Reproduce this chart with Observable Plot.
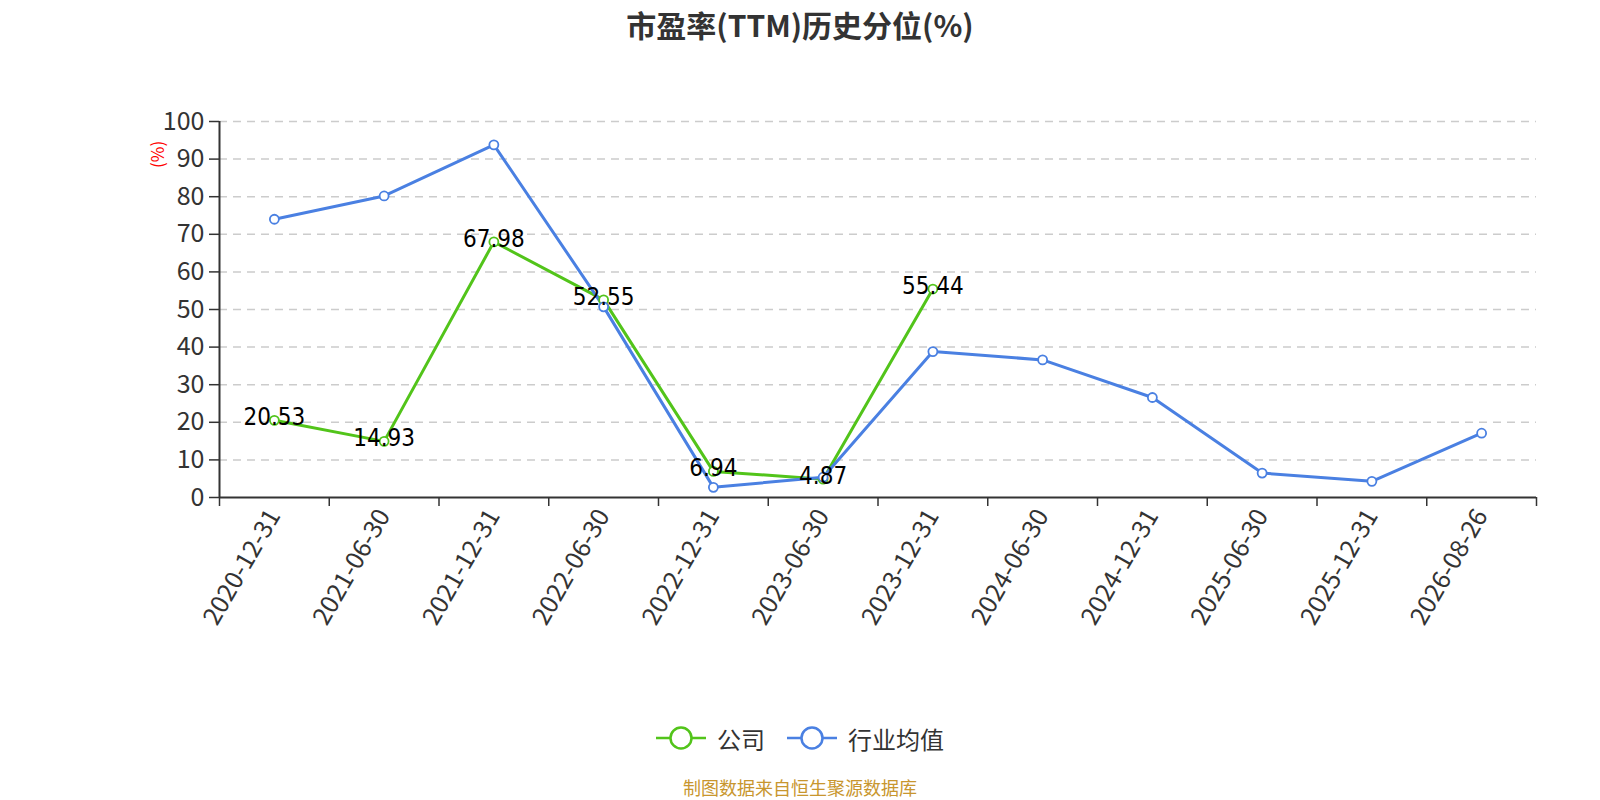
<!DOCTYPE html>
<html><head><meta charset="utf-8">
<script src="https://cdn.jsdelivr.net/npm/d3@7"></script>
<script src="https://cdn.jsdelivr.net/npm/@observablehq/plot@0.6"></script>
<style>
body{margin:0;background:#fff;font-family:"Noto Sans CJK SC","Noto Sans",sans-serif;}
#wrap{position:relative;width:1600px;height:800px;overflow:hidden;}
#title{position:absolute;left:0;width:1600px;top:6px;line-height:36px;text-align:center;font-size:30px;font-weight:bold;color:#333;}
#chart{position:absolute;left:0;top:0;}
#ylab{position:absolute;left:145px;top:144px;width:24px;height:24px;line-height:24px;transform:rotate(-90deg);color:#f00;font-size:17px;text-align:center;}
#legend{position:absolute;top:722px;left:0;width:1600px;height:32px;display:flex;justify-content:center;align-items:center;font-size:24px;color:#333;}
#legend .item{display:flex;align-items:center;margin:0 11px;}
#legend svg{margin-right:11px;}
#caption{position:absolute;top:777px;left:0;width:1600px;line-height:20px;text-align:center;font-size:18px;color:#c8962e;}
</style></head>
<body><div id="wrap">
<div id="chart"></div>
<div id="title">市盈率(TTM)历史分位(%)</div>
<div id="ylab">(%)</div>
<div id="legend"></div>
<div id="caption">制图数据来自恒生聚源数据库</div>
</div>
<script>
const dates = ["2020-12-31","2021-06-30","2021-12-31","2022-06-30","2022-12-31","2023-06-30","2023-12-31","2024-06-30","2024-12-31","2025-06-30","2025-12-31","2026-08-26"];
const company = [20.53, 14.93, 67.98, 52.55, 6.94, 4.87, 55.44, null, null, null, null, null];
const industry = [74.0, 80.2, 93.8, 50.7, 2.7, 5.4, 38.8, 36.6, 26.6, 6.5, 4.3, 17.1];
const yTicks = [0,10,20,30,40,50,60,70,80,90,100];
const seriesNames = ["公司","行业均值"];
const colors = ["#52c41a","#4a80e2"];

const compRows = dates.map((d,i)=>({i, date:d, v:company[i]})).filter(r=>r.v!=null);
const indRows = dates.map((d,i)=>({i, date:d, v:industry[i]}));
const idx = d3.range(dates.length);
const bounds = d3.range(dates.length+1).map(k=>k-0.5);

const plot = Plot.plot({
  width:1600, height:700,
  marginTop:121, marginLeft:219, marginRight:64, marginBottom:203,
  style:{color:"#333", fontFamily:"'Noto Sans CJK SC','Noto Sans',sans-serif", background:"transparent"},
  x:{type:"linear", domain:[-0.5, dates.length-0.5]},
  y:{domain:[0,100]},
  marks:[
    Plot.gridY(yTicks.filter(t=>t>0), {stroke:"#ccc", strokeOpacity:1, strokeDasharray:"8,6", strokeWidth:1.5}),
    Plot.axisY(yTicks, {tickSize:10, fontSize:25, label:null, tickPadding:5, stroke:"#333", strokeWidth:1.5}),
    Plot.ruleX([-0.5], {stroke:"#333", strokeWidth:2}),
    Plot.ruleY([0], {stroke:"#333", strokeWidth:2}),
    Plot.axisX(bounds, {tickSize:9, tickFormat:()=>"", label:null, stroke:"#333", strokeWidth:1.5}),
    Plot.axisX(idx, {tickSize:0, tickFormat:i=>dates[i], tickRotate:-60, fontSize:25, label:null, tickPadding:14}),
    Plot.line(compRows, {x:"i", y:"v", stroke:colors[0], strokeWidth:3}),
    Plot.line(indRows, {x:"i", y:"v", stroke:colors[1], strokeWidth:3}),
    Plot.dot(compRows, {x:"i", y:"v", r:4.5, fill:"#fff", stroke:colors[0], strokeWidth:1.8}),
    Plot.dot(indRows, {x:"i", y:"v", r:4.5, fill:"#fff", stroke:colors[1], strokeWidth:1.8}),
    Plot.text(compRows, {x:"i", y:"v", text:d=>d.v.toFixed(2), fontSize:24, fill:"#000", dy:-3,
      fontFamily:"'Liberation Sans Narrow','DejaVu Sans Condensed','Noto Sans',sans-serif"})
  ]
});
document.getElementById("chart").appendChild(plot);

const legend = document.getElementById("legend");
seriesNames.forEach((n,k)=>{
  const it = document.createElement("div");
  it.className="item";
  it.innerHTML = `<svg width="50" height="26"><line x1="0" y1="13" x2="50" y2="13" stroke="${colors[k]}" stroke-width="2.5"/><circle cx="25" cy="13" r="10.5" fill="#fff" stroke="${colors[k]}" stroke-width="2.5"/></svg><span>${n}</span>`;
  legend.appendChild(it);
});
</script>
</body></html>
